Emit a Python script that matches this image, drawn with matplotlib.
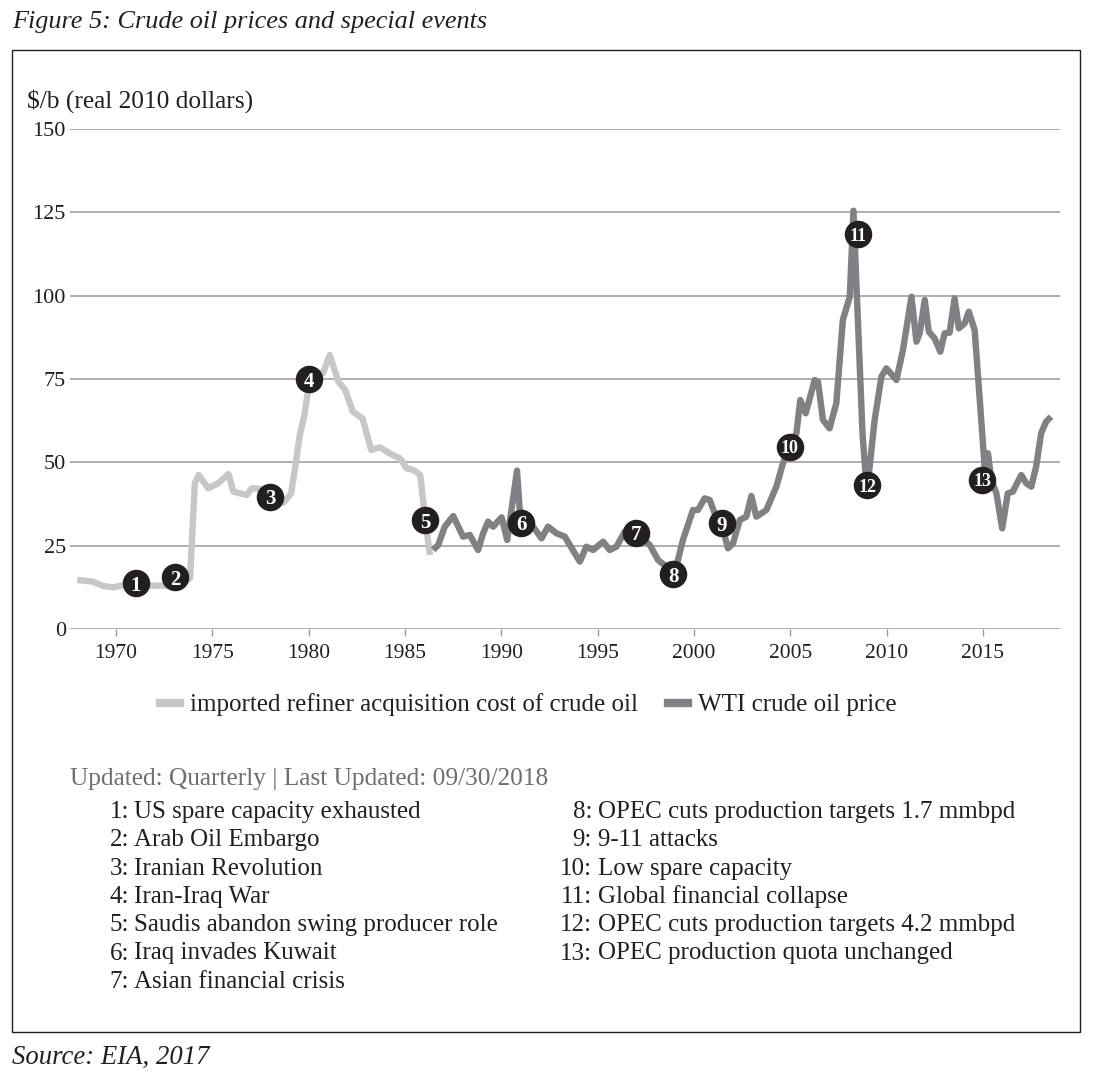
import matplotlib
matplotlib.use("Agg")
import matplotlib.pyplot as plt
from matplotlib.patches import Rectangle
from matplotlib.lines import Line2D

plt.rcParams['font.family'] = ['Liberation Serif', 'DejaVu Serif']

# ---------------- data ----------------
rac_years = [1968.0, 1968.8, 1969.35, 1969.9, 1970.4, 1971.0, 1971.5, 1972.0, 1972.5,
             1973.0, 1973.5, 1973.85, 1974.1, 1974.3, 1974.8, 1975.3, 1975.85, 1976.1,
             1976.8, 1977.05, 1977.5, 1978.0, 1978.7, 1979.1, 1979.55, 1979.8, 1980.0,
             1980.3, 1980.75, 1981.1, 1981.55, 1981.9, 1982.3, 1982.8, 1983.25, 1983.7,
             1984.2, 1984.75, 1985.1, 1985.45, 1985.8, 1986.05, 1986.3]
rac_values = [14.7, 14.2, 12.9, 12.5, 13.2, 13.3, 13.0, 13.0, 13.0,
              13.0, 13.5, 15.3, 43.8, 46.2, 42.2, 43.7, 46.5, 41.2,
              40.2, 42.2, 42.0, 40.0, 37.9, 40.7, 58.2, 64.7, 72.5,
              76.0, 76.7, 82.2, 74.2, 71.7, 65.2, 63.2, 53.7, 54.5,
              52.7, 51.2, 48.2, 47.7, 46.2, 33.0, 22.2]

wti_years = [1986.47, 1986.73, 1987.07, 1987.51, 1988.02, 1988.37, 1988.8, 1989.06,
             1989.32, 1989.58, 1990.02, 1990.31, 1990.82, 1990.96, 1991.65, 1992.09,
             1992.43, 1992.87, 1993.3, 1994.08, 1994.42, 1994.77, 1995.29, 1995.63,
             1995.98, 1996.41, 1996.98, 1997.71, 1998.14, 1998.57, 1999.0, 1999.43,
             1999.95, 2000.21, 2000.56, 2000.82, 2001.08, 2001.43, 2001.77, 2002.03,
             2002.38, 2002.72, 2002.98, 2003.24, 2003.76, 2004.28, 2004.62, 2004.97,
             2005.32, 2005.52, 2005.8, 2006.27, 2006.44, 2006.7, 2007.04, 2007.39,
             2007.73, 2008.09, 2008.28, 2008.75, 2008.98, 2009.12, 2009.38, 2009.73,
             2009.99, 2010.51, 2010.85, 2011.29, 2011.55, 2011.72, 2011.98, 2012.19,
             2012.49, 2012.79, 2013.01, 2013.27, 2013.53, 2013.75, 2014.05, 2014.27,
             2014.57, 2015.09, 2015.26, 2015.44, 2015.7, 2016.0, 2016.29, 2016.55,
             2016.99, 2017.25, 2017.51, 2017.76, 2018.02, 2018.28, 2018.54]
wti_values = [23.7, 25.2, 30.7, 33.9, 27.7, 28.2, 23.7, 28.7,
              32.2, 30.7, 33.5, 26.7, 47.5, 35.7, 30.7, 27.2,
              30.7, 28.7, 27.7, 20.2, 24.7, 23.7, 26.2, 23.7,
              24.7, 29.2, 29.0, 25.2, 20.7, 18.7, 16.7, 26.7,
              35.7, 35.7, 39.2, 38.7, 34.7, 31.7, 24.2, 25.7,
              32.7, 33.7, 39.9, 33.7, 35.7, 42.7, 49.7, 54.7,
              58.7, 68.7, 64.7, 74.7, 74.2, 62.7, 60.2, 67.7,
              92.7, 99.7, 125.5, 58.7, 41.0, 48.7, 62.7, 75.7,
              78.2, 74.7, 83.7, 99.7, 86.2, 88.7, 98.7, 89.2,
              87.2, 83.2, 88.7, 88.9, 99.2, 90.2, 91.7, 95.2,
              89.7, 48.7, 52.7, 44.7, 40.7, 30.2, 40.7, 41.2,
              46.2, 43.7, 42.7, 48.7, 58.7, 62.2, 63.7]

event_ids = ["1", "2", "3", "4", "5", "6", "7", "8", "9", "10", "11", "12", "13"]
event_years = [1971.04, 1973.06, 1978.0, 1980.02, 1986.04, 1991.05, 1996.98,
               1998.94, 2001.46, 2004.97, 2008.52, 2009.0, 2014.96]
event_values = [13.7, 15.5, 39.7, 74.9, 32.7, 31.9, 28.9,
                16.5, 31.7, 54.7, 118.4, 43.2, 44.7]

event_labels_left = ["US spare capacity exhausted", "Arab Oil Embargo", "Iranian Revolution",
                     "Iran-Iraq War", "Saudis abandon swing producer role",
                     "Iraq invades Kuwait", "Asian financial crisis"]
event_labels_right = ["OPEC cuts production targets 1.7 mmbpd", "9-11 attacks",
                      "Low spare capacity", "Global financial collapse",
                      "OPEC cuts production targets 4.2 mmbpd",
                      "OPEC production quota unchanged"]

x_ticks = [1970, 1975, 1980, 1985, 1990, 1995, 2000, 2005, 2010, 2015]
y_ticks = [0, 25, 50, 75, 100, 125, 150]

series_names = ["imported refiner acquisition cost of crude oil", "WTI crude oil price"]

# ---------------- styling ----------------
W, H = 1094, 1083
TEXT = "#231f20"
LIGHT = "#c6c7c9"
DARK = "#808184"
GRID = "#9a9a9a"
BODY = 18

fig = plt.figure(figsize=(W / 100, H / 100), dpi=100)


def fx(px):
    return px / W


def fy(py):
    return 1 - py / H


ax = fig.add_axes([fx(70), fy(629), fx(1060) - fx(70), fy(129) - fy(629)])
ax.set_xlim(1967.62, 2019.0)
ax.set_ylim(0, 150)
for s in ax.spines.values():
    s.set_visible(False)
ax.set_yticks(y_ticks)
ax.set_yticklabels([str(v) for v in y_ticks])
ax.set_xticks(x_ticks)
ax.set_xticklabels([str(v) for v in x_ticks])
for v in y_ticks:
    ax.axhline(v, color=GRID, lw=1.1, zorder=1)
ax.tick_params(axis='y', length=0, pad=3, labelsize=16, labelcolor=TEXT)
ax.tick_params(axis='x', length=5, width=1, color=GRID, pad=6, labelsize=15.5,
               labelcolor=TEXT, direction='out')

ax.plot(rac_years, rac_values, color=LIGHT, lw=4.6, solid_joinstyle='round',
        solid_capstyle='butt', zorder=3)
ax.plot(wti_years, wti_values, color=DARK, lw=4.6, solid_joinstyle='round',
        solid_capstyle='butt', zorder=3)

ax.scatter(event_years, event_values, s=(27.5 * 0.72) ** 2, color=TEXT,
           zorder=5, linewidths=0)
for lab, xv, yv in zip(event_ids, event_years, event_values):
    ax.text(xv, yv, lab, color='white', fontsize=15 if len(lab) == 1 else 13,
            fontweight='bold', ha='center', va='center_baseline', zorder=6)

# frame
fig.patches.append(Rectangle((fx(12), fy(1032)), fx(1080) - fx(12), fy(50) - fy(1032),
                             transform=fig.transFigure, fill=False, lw=1.0,
                             edgecolor=TEXT))

fig.text(fx(12), fy(22), "Figure 5: Crude oil prices and special events", fontsize=18.9,
         style='italic', color=TEXT, ha='left', va='center')
fig.text(fx(27), fy(101), "$/b (real 2010 dollars)", fontsize=18.3, color=TEXT,
         ha='left', va='center')
fig.text(fx(12), fy(1057), "Source: EIA, 2017", fontsize=19.3, style='italic', color=TEXT,
         ha='left', va='center')

handles = [Line2D([0], [0], color=LIGHT, lw=6), Line2D([0], [0], color=DARK, lw=6)]
fig.legend(handles, series_names, loc='center', bbox_to_anchor=(fx(528), fy(705)),
           ncol=2, frameon=False, fontsize=18, handlelength=0.8, handletextpad=0.4,
           columnspacing=1.2, labelcolor=TEXT)

fig.text(fx(70), fy(779), "Updated: Quarterly | Last Updated: 09/30/2018", fontsize=18.3,
         color="#6d6e71", ha='left', va='center')

row0, dy = 812, 28.3
for i, lab in enumerate(event_labels_left):
    y = fy(row0 + i * dy)
    fig.text(fx(129), y, f"{event_ids[i]}:", fontsize=BODY, color=TEXT, ha='right', va='center')
    fig.text(fx(134), y, lab, fontsize=BODY, color=TEXT, ha='left', va='center')
for j, lab in enumerate(event_labels_right):
    y = fy(row0 + j * dy)
    fig.text(fx(592), y, f"{event_ids[7 + j]}:", fontsize=BODY, color=TEXT, ha='right', va='center')
    fig.text(fx(598), y, lab, fontsize=BODY, color=TEXT, ha='left', va='center')

fig.savefig("out.png", dpi=100)
